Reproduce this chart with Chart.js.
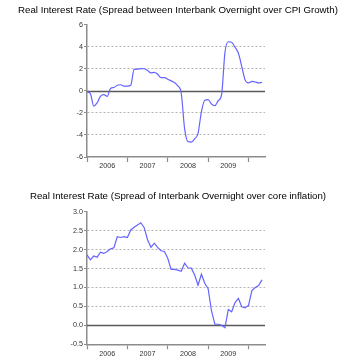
<!DOCTYPE html>
<html>
<head>
<meta charset="utf-8">
<script src="https://cdn.jsdelivr.net/npm/chart.js@4/dist/chart.umd.min.js"></script>
<style>
  html, body { margin: 0; padding: 0; background: #fff; }
  .wrap { position: absolute; left: 0; width: 356px; height: 180px; }
  canvas { display: block; }
</style>
</head>
<body>
<div class="wrap" style="top:0"><canvas id="c1" width="356" height="180"></canvas></div>
<div class="wrap" style="top:180px"><canvas id="c2" width="356" height="180"></canvas></div>
<script>
// Monthly observations, Jan 2006 .. May 2010
const title1 = 'Real Interest Rate (Spread between Interbank Overnight over CPI Growth)';
const title2 = 'Real Interest Rate (Spread of Interbank Overnight over core inflation)';
const years = ['2006', '2007', '2008', '2009'];
const spreadCPI = [
  -0.1, -0.25, -1.38, -1.1, -0.5, -0.35, -0.5, 0.22, 0.3, 0.5, 0.55, 0.43,
  0.42, 0.5, 1.95, 1.97, 2.02, 2.0, 1.85, 1.63, 1.68, 1.5, 1.2, 1.2,
  1.05, 0.9, 0.75, 0.45, -0.2, -3.4, -4.6, -4.65, -4.35, -3.86, -1.9, -0.85,
  -0.8, -1.2, -1.35, -0.9, -0.35, 3.5, 4.45, 4.4, 3.95, 3.4, 2.2, 0.97,
  0.72, 0.85, 0.8, 0.72, 0.76
];
const spreadCore = [
  1.86, 1.73, 1.83, 1.80, 1.93, 1.90, 1.95, 2.02, 2.05, 2.34, 2.32, 2.34,
  2.32, 2.52, 2.59, 2.65, 2.71, 2.58, 2.26, 2.06, 2.17, 2.06, 1.97, 1.95,
  1.77, 1.48, 1.48, 1.46, 1.43, 1.64, 1.52, 1.51, 1.33, 1.06, 1.35, 1.11,
  0.97, 0.38, 0.03, 0.03, 0.0, -0.06, 0.42, 0.36, 0.6, 0.71, 0.49, 0.46,
  0.53, 0.92, 1.0, 1.05, 1.2
];
const yTicks1 = { min: -6, max: 6, step: 2 };
const yTicks2 = { min: -0.5, max: 3.0, step: 0.5 };

const LINE = '#6464ff';
const AXIS = '#8c8c8c';
const GRID = '#b4b4b4';
const FONT = 'Arial, "Liberation Sans", sans-serif';

const zeroLine = {
  id: 'zeroLine',
  beforeDatasetsDraw(chart) {
    const y = chart.scales.y, a = chart.chartArea, c = chart.ctx;
    const py = Math.round(y.getPixelForValue(0)) + 0.5;
    c.save();
    c.strokeStyle = '#5a5a5a';
    c.lineWidth = 1.4;
    c.beginPath();
    c.moveTo(a.left, py);
    c.lineTo(a.right, py);
    c.stroke();
    c.restore();
  }
};

function makeChart(id, title, values, yt, dec, titlePad, xH, smooth) {
  const pts = values.map((v, i) => ({ x: i, y: v }));
  return new Chart(document.getElementById(id), {
    type: 'line',
    data: { datasets: [{ data: pts, borderColor: LINE, borderWidth: 1.2, pointRadius: 0,
      tension: smooth ? 0.4 : 0, cubicInterpolationMode: smooth ? 'monotone' : 'default', fill: false }] },
    options: {
      responsive: false, animation: false, devicePixelRatio: 1,
      layout: { padding: 0 },
      plugins: {
        legend: { display: false }, tooltip: { enabled: false },
        title: { display: true, text: title, color: '#000',
          font: { family: FONT, size: 9.7, weight: 'normal' }, padding: titlePad }
      },
      scales: {
        x: {
          type: 'linear', min: 0, max: 52.9,
          afterBuildTicks(s) { s.ticks = [0, 6, 12, 18, 24, 30, 36, 42, 48].map(v => ({ value: v })); },
          afterFit(s) { s.height = xH; },
          ticks: { autoSkip: false, maxRotation: 0, padding: 0, color: '#333',
            font: { family: FONT, size: 7.2 },
            callback: (v) => (v % 12 === 6 ? years[(v - 6) / 12] : '') },
          grid: { drawOnChartArea: false, tickLength: 5, tickWidth: 1.2,
            tickColor: (ctx) => (ctx.tick && ctx.tick.value % 12 === 0 ? AXIS : 'rgba(0,0,0,0)') },
          border: { color: AXIS, width: 1.5 }
        },
        y: {
          min: yt.min, max: yt.max,
          afterFit(s) { s.width = 87; },
          ticks: { stepSize: yt.step, padding: 1, color: '#333',
            font: { family: FONT, size: 7.2 },
            callback: (v) => v.toFixed(dec) },
          grid: { tickLength: 3, tickColor: AXIS, tickWidth: 1.2,
            color: (ctx) => {
              const v = ctx.tick ? ctx.tick.value : null;
              if (v === null || Math.abs(v) < 1e-9 || Math.abs(v - yt.max) < 1e-9 || Math.abs(v - yt.min) < 1e-9) return 'rgba(0,0,0,0)';
              return GRID;
            }, lineWidth: 1 },
          border: { color: AXIS, width: 1.5, dash: [2, 2] }
        },
        spacer: {
          position: 'right', display: true,
          afterFit(s) { s.width = 91; },
          ticks: { display: false }, grid: { display: false }, border: { display: false }
        }
      }
    },
    plugins: [zeroLine]
  });
}

makeChart('c1', title1, spreadCPI, yTicks1, 0, { top: 4.8, bottom: 8.2 }, 23, true);
makeChart('c2', title2, spreadCore, yTicks2, 1, { top: 10.9, bottom: 9.2 }, 15.7, false);
</script>
</body>
</html>
